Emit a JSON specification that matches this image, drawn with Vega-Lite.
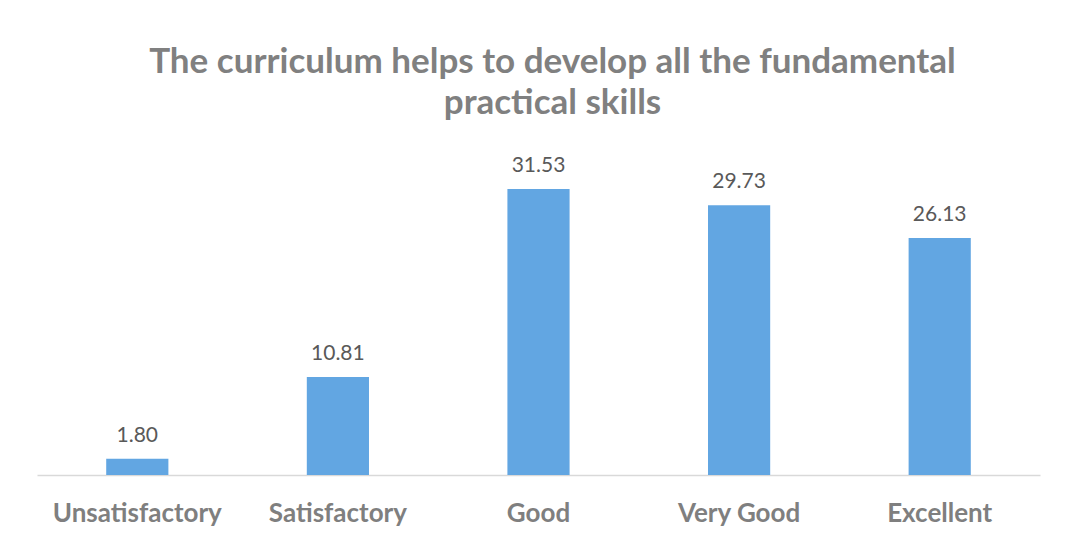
{
  "$schema": "https://vega.github.io/schema/vega-lite/v6.json",
  "width": 1003,
  "height": 317.5,
  "autosize": {"type": "none"},
  "padding": {"left": 37, "right": 41, "top": 157.5, "bottom": 65},
  "background": "white",
  "title": {
    "text": ["The curriculum helps to develop all the fundamental", "practical skills"],
    "font": "Lato",
    "fontSize": 35,
    "fontWeight": "bold",
    "color": "#808080",
    "lineHeight": 41,
    "anchor": "middle",
    "dx": 14,
    "offset": 34
  },
  "data": {
    "values": [
      {"category": "Unsatisfactory", "value": 1.80},
      {"category": "Satisfactory", "value": 10.81},
      {"category": "Good", "value": 31.53},
      {"category": "Very Good", "value": 29.73},
      {"category": "Excellent", "value": 26.13}
    ]
  },
  "encoding": {
    "x": {
      "field": "category",
      "type": "nominal",
      "sort": null,
      "title": null,
      "scale": {"paddingInner": 0.69, "paddingOuter": 0.345},
      "axis": {
        "labelAngle": 0,
        "ticks": false,
        "domainColor": "#d9d9d9",
        "domainWidth": 1.5,
        "labelFont": "Lato",
        "labelFontSize": 26,
        "labelFontWeight": "bold",
        "labelColor": "#7f7f7f",
        "labelPadding": 25
      }
    },
    "y": {
      "field": "value",
      "type": "quantitative",
      "scale": {"domain": [0, 35], "nice": false},
      "axis": null
    }
  },
  "layer": [
    {"mark": {"type": "bar", "color": "#62a6e2"}},
    {
      "mark": {"type": "text", "baseline": "bottom", "dy": -13, "font": "Lato", "fontSize": 21, "color": "#595959"},
      "encoding": {"text": {"field": "value", "type": "quantitative", "format": ".2f"}}
    }
  ],
  "config": {"view": {"stroke": null}}
}
